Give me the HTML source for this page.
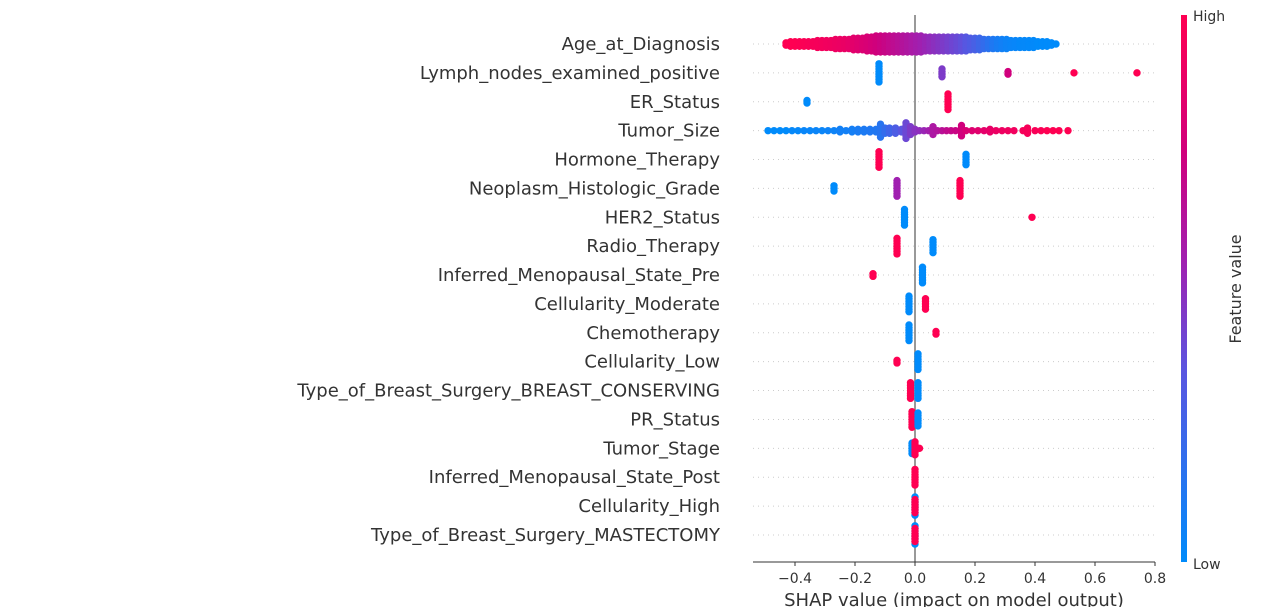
<!DOCTYPE html>
<html><head><meta charset="utf-8"><style>
html,body{margin:0;padding:0;background:#fff;width:1280px;height:607px;overflow:hidden}
svg{display:block}
text{font-family:"DejaVu Sans","Liberation Sans",sans-serif}
</style></head><body>
<svg id="chart" width="1280" height="607" viewBox="0 0 1280 607" xmlns="http://www.w3.org/2000/svg">
<defs><linearGradient id="cb" x1="0" y1="1" x2="0" y2="0">
<stop offset="0" stop-color="#008bfb"/><stop offset="0.35" stop-color="#5a55e0"/><stop offset="0.55" stop-color="#a020b0"/><stop offset="0.75" stop-color="#d0007c"/><stop offset="1" stop-color="#ff0052"/></linearGradient></defs>
<g id="grid"></g><g id="zero"></g><g id="dots"></g><g id="labels"></g><g id="axis"></g>
<rect x="1181" y="15" width="6" height="547" fill="url(#cb)"/>
<text x="1193" y="21" font-size="14" fill="#333">High</text>
<text x="1193" y="569" font-size="14" fill="#333">Low</text>
<text transform="translate(1241,289) rotate(-90)" text-anchor="middle" font-size="16" fill="#333">Feature value</text>
<text x="954" y="606" text-anchor="middle" font-size="18" fill="#333">SHAP value (impact on model output)</text>
</svg>
<script>
const features = ["Age_at_Diagnosis","Lymph_nodes_examined_positive","ER_Status","Tumor_Size","Hormone_Therapy","Neoplasm_Histologic_Grade","HER2_Status","Radio_Therapy","Inferred_Menopausal_State_Pre","Cellularity_Moderate","Chemotherapy","Cellularity_Low","Type_of_Breast_Surgery_BREAST_CONSERVING","PR_Status","Tumor_Stage","Inferred_Menopausal_State_Post","Cellularity_High","Type_of_Breast_Surgery_MASTECTOMY"];
const xTicks = [-0.4,-0.2,0.0,0.2,0.4,0.6,0.8];
const xTickLabels = ["\u22120.4","\u22120.2","0.0","0.2","0.4","0.6","0.8"];
// each cluster: [shap value, feature value (0..1), stacked count]
const ageClusters = [[-0.43,1,2],[-0.415,1,3],[-0.40,1,3],[-0.385,0.99,3],[-0.37,0.98,3],[-0.355,0.97,3],[-0.34,0.96,3],[-0.325,0.95,4],[-0.31,0.94,4],[-0.295,0.93,4],[-0.28,0.92,4],[-0.265,0.91,5],[-0.25,0.9,5],[-0.235,0.89,5],[-0.22,0.87,5],[-0.205,0.85,6],[-0.19,0.83,6],[-0.175,0.81,6],[-0.16,0.79,7],[-0.145,0.77,7],[-0.13,0.75,8],[-0.115,0.73,8],[-0.10,0.71,8],[-0.085,0.69,8],[-0.07,0.67,8],[-0.055,0.65,8],[-0.04,0.63,8],[-0.025,0.61,8],[-0.01,0.59,8],[0.005,0.57,8],[0.02,0.55,8],[0.035,0.53,7],[0.05,0.51,7],[0.065,0.49,7],[0.08,0.47,7],[0.095,0.45,7],[0.11,0.43,7],[0.125,0.41,7],[0.14,0.39,7],[0.155,0.37,7],[0.17,0.34,7],[0.185,0.31,6],[0.20,0.28,6],[0.215,0.24,6],[0.23,0.2,5],[0.245,0.16,5],[0.26,0.12,5],[0.275,0.09,5],[0.29,0.07,5],[0.305,0.05,5],[0.32,0.04,4],[0.335,0.03,4],[0.35,0.02,4],[0.365,0.02,4],[0.38,0.01,4],[0.395,0.01,4],[0.41,0,3],[0.425,0,3],[0.44,0,3],[0.455,0,2],[0.47,0,1]];
const lymphClusters = [[-0.12,0,8],[0.09,0.45,4],[0.31,0.75,2],[0.53,1,1],[0.74,1,1]];
const erClusters = [[-0.36,0,2],[0.11,1,7]];
const tumorSizeClusters = [[-0.49,0,1],[-0.47,0,1],[-0.45,0,1],[-0.43,0,1],[-0.41,0.02,1],[-0.39,0.02,1],[-0.37,0.03,1],[-0.35,0.03,1],[-0.33,0.04,1],[-0.31,0.04,1],[-0.29,0.05,1],[-0.27,0.05,1],[-0.25,0.07,2],[-0.23,0.07,1],[-0.21,0.08,2],[-0.19,0.1,2],[-0.17,0.11,2],[-0.15,0.12,2],[-0.13,0.13,2],[-0.115,0.15,6],[-0.10,0.2,3],[-0.085,0.25,3],[-0.065,0.3,3],[-0.045,0.35,2],[-0.03,0.4,7],[-0.015,0.45,4],[0.0,0.48,2],[0.015,0.5,1],[0.03,0.53,1],[0.045,0.56,1],[0.06,0.6,4],[0.075,0.62,1],[0.09,0.65,1],[0.105,0.68,1],[0.12,0.7,1],[0.135,0.72,1],[0.155,0.75,5],[0.17,0.8,1],[0.19,0.82,1],[0.21,0.84,1],[0.23,0.86,1],[0.25,0.88,2],[0.27,0.9,1],[0.29,0.91,1],[0.31,0.92,1],[0.33,0.93,1],[0.36,0.95,1],[0.375,0.96,3],[0.40,0.97,1],[0.42,0.98,1],[0.44,1,1],[0.46,1,1],[0.48,1,1],[0.51,1,1]];
const hormoneClusters = [[-0.12,1,7],[0.17,0,5]];
const gradeClusters = [[-0.27,0,3],[-0.06,0.55,7],[0.15,1,7]];
const her2Clusters = [[-0.035,0,7],[0.39,1,1]];
const radioClusters = [[-0.06,1,7],[0.06,0,6]];
const menoPreClusters = [[-0.14,1,2],[0.025,0,7]];
const cellModClusters = [[-0.02,0,7],[0.035,1,5]];
const chemoClusters = [[-0.02,0,7],[0.07,1,2]];
const cellLowClusters = [[-0.06,1,2],[0.01,0,7]];
const conservingClusters = [[-0.015,1,7],[0.01,0,7]];
const prClusters = [[-0.01,1,7],[0.01,0,6]];
const stageClusters = [[-0.01,0,5],[0.0,1,6],[0.015,1,1]];
const menoPostClusters = [[0,1,7]];
const cellHighClusters = [[0,0,8],[0,1,6]];
const mastectomyClusters = [[0,0,8],[0,1,6]];
const allClusters = [ageClusters,lymphClusters,erClusters,tumorSizeClusters,hormoneClusters,gradeClusters,her2Clusters,radioClusters,menoPreClusters,cellModClusters,chemoClusters,cellLowClusters,conservingClusters,prClusters,stageClusters,menoPostClusters,cellHighClusters,mastectomyClusters];

const NS="http://www.w3.org/2000/svg";
const x0=915, xs=300, xL=753, xR=1155, axisY=562;
function xScale(v){return x0+v*xs;}
function yRow(i){return 44+i*28.88;}
function lerp(a,b,t){return a+(b-a)*t;}
const stops=[[0,[0,139,251]],[0.35,[90,85,224]],[0.55,[160,32,176]],[0.75,[208,0,124]],[1,[255,0,82]]];
function color(t){for(let i=1;i<stops.length;i++){if(t<=stops[i][0]){const a=stops[i-1],b=stops[i];const f=(t-a[0])/(b[0]-a[0]);return `rgb(${Math.round(lerp(a[1][0],b[1][0],f))},${Math.round(lerp(a[1][1],b[1][1],f))},${Math.round(lerp(a[1][2],b[1][2],f))})`;}}return "rgb(255,0,82)";}
function mk(tag,attrs,parent){const e=document.createElementNS(NS,tag);for(const k in attrs)e.setAttribute(k,attrs[k]);parent.appendChild(e);return e;}
const grid=document.getElementById('grid'),dots=document.getElementById('dots'),labels=document.getElementById('labels'),axis=document.getElementById('axis'),zero=document.getElementById('zero');
features.forEach((f,i)=>{
  const y=yRow(i);
  const g=mk('line',{x1:xL,x2:xR,y1:y,y2:y,stroke:'#ccc','stroke-width':1,'stroke-dasharray':'1,4'},grid);
  
  
  const t=mk('text',{x:720,y:y+6,'text-anchor':'end','font-size':18,fill:'#333'},labels);
  t.textContent=f;
  
  
  const sp = i===0 ? 2.3 : 2.6;
  allClusters[i].forEach(c=>{
    const n=c[2];
    for(let k=0;k<n;k++){
      const d=mk('circle',{cx:xScale(c[0]),cy:y+(k-(n-1)/2)*sp,r:3.7,fill:color(c[1])},dots);
      
      
    }
  });
});
const zl=mk('line',{x1:x0,x2:x0,y1:15,y2:axisY,stroke:'#999','stroke-width':2},zero);


const al=mk('line',{x1:xL,x2:xR,y1:axisY,y2:axisY,stroke:'#333','stroke-width':1},axis);


xTicks.forEach((v,i)=>{
  const tk=mk('line',{x1:xScale(v),x2:xScale(v),y1:axisY,y2:axisY+4,stroke:'#333'},axis);
  
  
  const tl=mk('text',{x:xScale(v),y:axisY+21,'text-anchor':'middle','font-size':14,fill:'#333'},axis);
  tl.textContent=xTickLabels[i];
  
  
});
</script>
</body></html>
